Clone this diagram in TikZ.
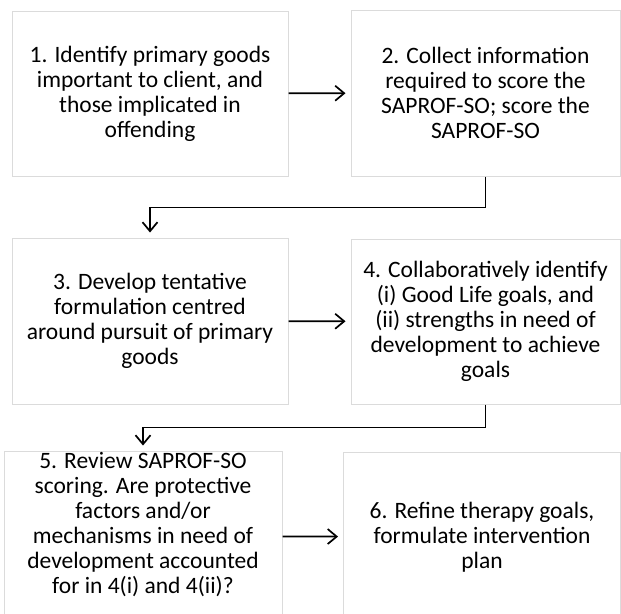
\documentclass[tikz,border=0pt]{standalone}
\usepackage{fontspec}
\setmainfont{Carlito}
\usepackage{tikz}
\usetikzlibrary{arrows.meta, positioning}
\tikzset{
  stepbox/.style={draw=black!14, line width=1pt, fill=white, align=center,
    inner sep=0pt, font=\fontsize{23.5}{25}\selectfont},
  flowarrow/.style={-{Straight Barb[length=9pt, width=15pt]}, line width=1.7pt,
    black, shorten >=5pt},
}

\begin{document}
\begin{tikzpicture}[x=1pt, y=-1pt]
  \clip (0,0) rectangle (621,613);
  \node[stepbox, minimum width=276pt, minimum height=165pt] (b1) at (150,93.5)
    {1. Identify primary goods\\important to client, and\\those implicated in\\offending};
  \node[stepbox, minimum width=269pt, minimum height=166pt] (b2) at (485.5,93)
    {2. Collect information\\required to score the\\SAPROF-SO; score the\\SAPROF-SO};
  \node[stepbox, minimum width=276pt, minimum height=166pt] (b3) at (150,321)
    {3. Develop tentative\\formulation centred\\around pursuit of primary\\goods};
  \node[stepbox, minimum width=269pt, minimum height=165pt] (b4) at (485.5,321.5)
    {4. Collaboratively identify\\(i) Good Life goals, and\\(ii) strengths in need of\\development to achieve\\goals};
  \node[stepbox, minimum width=278pt, minimum height=170pt] (b5) at (143,536)
    {5. Review SAPROF-SO\\scoring. Are protective\\factors and/or\\mechanisms in need of\\development accounted\\for in 4(i) and 4(ii)?\\[2pt]};
  \node[stepbox, minimum width=277pt, minimum height=170pt] (b6) at (482,537)
    {6. Refine therapy goals,\\formulate intervention\\plan};
  % connectors
  \foreach \a/\b in {b1/b2,b3/b4,b5/b6} \draw[flowarrow] (\a) -- (\b);
  \draw[flowarrow] (b2.south) -- ++(0,31) -| (b3.north);
  \draw[flowarrow] (b4.south) -- ++(0,23) -| (b5.north);
\end{tikzpicture}
\end{document}
